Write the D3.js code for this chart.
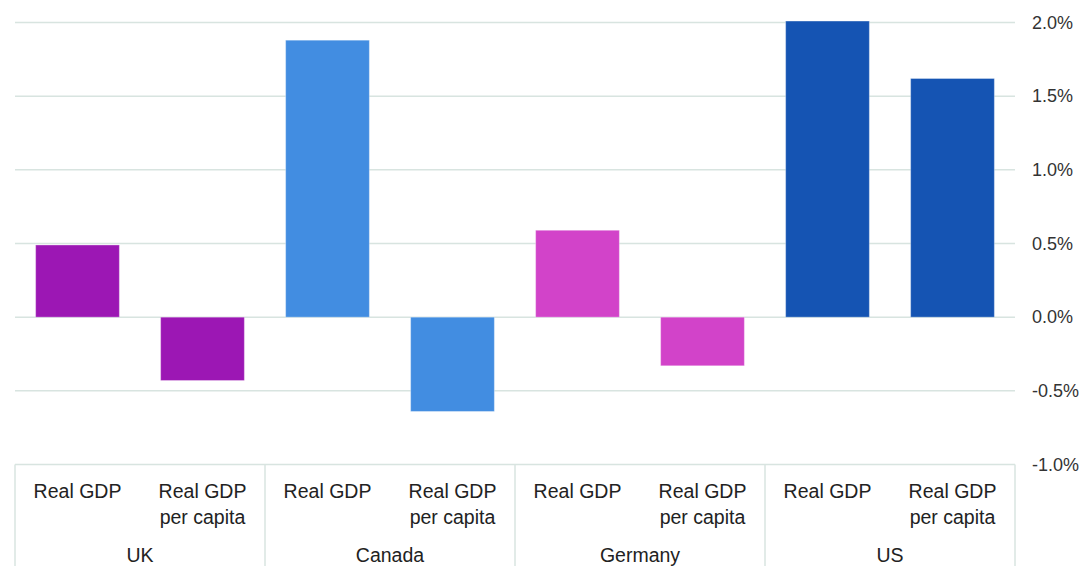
<!DOCTYPE html>
<html><head><meta charset="utf-8">
<script src="https://cdn.jsdelivr.net/npm/d3@7"></script>
<style>body{margin:0;background:#fff}svg{display:block}text{font-family:"Liberation Sans",Arial,sans-serif}</style>
</head><body>
<svg id="c" width="1086" height="566"></svg>
<script>
const countries = ["UK","Canada","Germany","US"];
const measures = ["Real GDP","Real GDP per capita"];
const realGDP = [0.49, 1.88, 0.59, 2.01];
const realGDPperCapita = [-0.43, -0.64, -0.33, 1.62];
const colors = ["#9c17b4","#428de1","#d243c9","#1554b3"];
const yTicks = [-1.0,-0.5,0,0.5,1.0,1.5,2.0];

const rows = [];
countries.forEach((c,i)=>{
  rows.push({country:c, measure:measures[0], value:realGDP[i], color:colors[i], key:c+"|0"});
  rows.push({country:c, measure:measures[1], value:realGDPperCapita[i], color:colors[i], key:c+"|1"});
});

const svg = d3.select("#c");
const left = 15, right = 1015, gridColor = "#d8e4e0";
const y = d3.scaleLinear().domain([-1,2]).range([464.5,22.5]);
const x = d3.scaleBand().domain(rows.map(d=>d.key)).range([left,right]).paddingInner(0.33).paddingOuter(0.165);
const xg = d3.scaleBand().domain(countries).range([left,right]);

// grid
svg.append("g").selectAll("line").data(yTicks).join("line")
  .attr("x1",left).attr("x2",right).attr("y1",d=>y(d)).attr("y2",d=>y(d))
  .attr("stroke",gridColor).attr("stroke-width",1.5);

// y axis labels (right side)
const ax = svg.append("g").attr("transform",`translate(${right},0)`)
  .call(d3.axisRight(y).tickValues(yTicks).tickSize(0).tickPadding(17)
    .tickFormat(d=>d3.format(".1f")(d).replace("\u2212","-")+"%"));
ax.select(".domain").remove();
ax.selectAll("text").attr("font-size",18).attr("fill","#333").attr("font-family","Liberation Sans, Arial, sans-serif");

// bars
svg.append("g").selectAll("rect").data(rows).join("rect")
  .attr("x",d=>x(d.key)).attr("width",x.bandwidth())
  .attr("y",d=>y(Math.max(0,d.value))).attr("height",d=>Math.abs(y(d.value)-y(0)))
  .attr("fill",d=>d.color).attr("stroke","#ffffff").attr("stroke-opacity",0.35).attr("stroke-width",1);

// category box
const box = svg.append("g");
box.selectAll("line.v").data(countries.concat(["_end"])).join("line")
  .attr("x1",(d,i)=>left+i*xg.bandwidth()).attr("x2",(d,i)=>left+i*xg.bandwidth())
  .attr("y1",y(-1)).attr("y2",566).attr("stroke",gridColor).attr("stroke-width",1.5);

// measure labels
const step = xg.bandwidth()/2;
const lab = svg.append("g").attr("font-size",19.5).attr("fill","#222").attr("text-anchor","middle");
rows.forEach((d,i)=>{
  const cx = left + step*(i+0.5);
  const words = d.measure === measures[1] ? ["Real GDP","per capita"] : ["Real GDP"];
  words.forEach((w,j)=>{
    lab.append("text").attr("x",cx).attr("y",498+j*26).text(w);
  });
});
// country labels
lab.selectAll("text.country").data(countries).join("text").attr("class","country")
  .attr("x",d=>xg(d)+xg.bandwidth()/2).attr("y",562).text(d=>d);
</script>
</body></html>
